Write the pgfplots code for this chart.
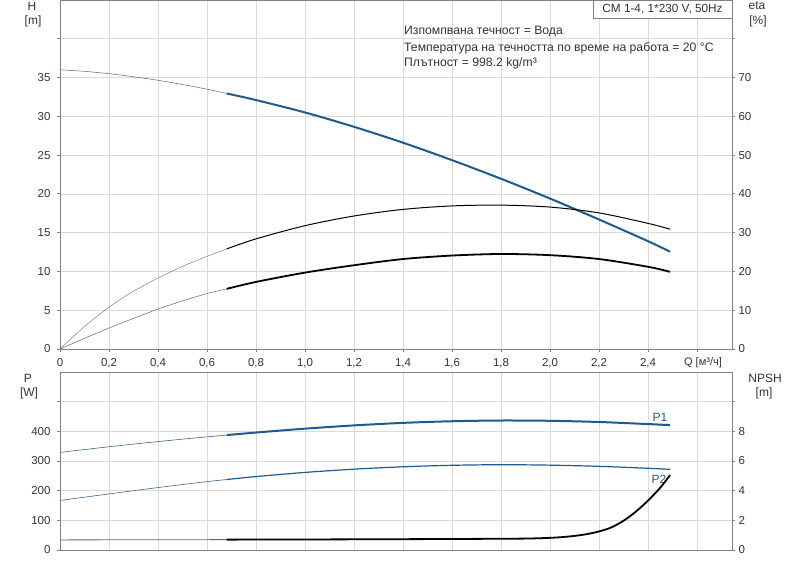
\documentclass[border=0pt]{standalone}
\usepackage{pgfplots}
\pgfplotsset{compat=1.18}
\usepackage{fontspec}
\setmainfont{Liberation Sans}
\definecolor{cblue}{HTML}{1F5A8C}
\definecolor{gridc}{HTML}{DADADA}
\definecolor{axc}{HTML}{808080}
\definecolor{txt}{HTML}{333333}
\pgfplotsset{
  base/.style={
    scale only axis, clip=false,
    xmin=0, xmax=2.7429,
    axis line style={axc, line width=0.8pt},
    tick style={axc, line width=0.8pt},
    major tick length=3pt,
    tick align=outside,
    grid=major,
    major grid style={gridc, line width=0.6pt},
    tick label style={font=\fontsize{11.5}{13}\selectfont, text=txt},
    /pgf/number format/assume math mode=true,
  },
  xt/.style={xtick={0,0.2,0.4,0.6,0.8,1.0,1.2,1.4,1.6,1.8,2.0,2.2,2.4,2.6}},
}
\begin{document}
\begin{tikzpicture}[x=1pt,y=1pt]
\useasboundingbox (0,0) rectangle (800,560);
% ---------- top: H ----------
\begin{axis}[base, xt, at={(60pt,211pt)}, anchor=south west,
  width=672pt, height=349pt,
  ymin=0, ymax=45,
  ytick={0,5,10,15,20,25,30,35,40},
  yticklabels={0,5,10,15,20,25,30,35,{}},
  xticklabels={0,{0,2},{0,4},{0,6},{0,8},{1,0},{1,2},{1,4},{1,6},{1,8},{2,0},{2,2},{2,4},{}},
  yticklabel style={xshift=-3pt},
  xticklabel style={yshift=-3pt},
  ytick pos=left, xtick pos=bottom]
\addplot[cblue!60!gray, line width=0.5pt, smooth] coordinates {(0,36) (0.1,35.8) (0.2,35.5) (0.3,35.1) (0.4,34.65) (0.5,34.1) (0.6,33.5) (0.68,32.95)};
\addplot[cblue, line width=2pt, smooth] coordinates {(0.68,32.95) (0.8,32.1) (1.0,30.5) (1.2,28.65) (1.4,26.6) (1.6,24.35) (1.8,21.95) (2.0,19.4) (2.2,16.7) (2.4,13.9) (2.49,12.55)};
\end{axis}
% ---------- top: eta ----------
\begin{axis}[base, at={(60pt,211pt)}, anchor=south west,
  width=672pt, height=349pt,
  ymin=0, ymax=90,
  axis x line=none, axis y line*=right, grid=none,
  ytick={0,10,20,30,40,50,60,70,80},
  yticklabels={0,10,20,30,40,50,60,70,{}}]
\addplot[gray, line width=0.5pt, smooth] coordinates {(0,0) (0.1,5.8) (0.2,10.8) (0.3,14.9) (0.4,18.3) (0.5,21.3) (0.6,23.9) (0.68,25.8)};
\addplot[black, line width=1pt, smooth] coordinates {(0.68,25.8) (0.8,28.4) (1.0,31.8) (1.2,34.3) (1.4,36.0) (1.6,36.9) (1.8,37.1) (2.0,36.6) (2.2,35.1) (2.4,32.4) (2.49,30.9)};
\addplot[gray!80!black, line width=0.5pt, smooth] coordinates {(0,0) (0.1,2.75) (0.2,5.4) (0.3,7.9) (0.4,10.3) (0.5,12.4) (0.6,14.3) (0.68,15.5)};
\addplot[black, line width=1.8pt, smooth] coordinates {(0.68,15.5) (0.8,17.3) (1.0,19.7) (1.2,21.6) (1.4,23.2) (1.6,24.1) (1.8,24.5) (2.0,24.2) (2.2,23.2) (2.4,21.2) (2.49,19.9)};
\end{axis}
% ---------- bottom: P ----------
\begin{axis}[base, xt, at={(60pt,10pt)}, anchor=south west,
  width=672pt, height=178pt,
  ymin=0, ymax=600,
  ytick={0,100,200,300,400,500},
  yticklabels={0,100,200,300,400,{}},
  yticklabel style={xshift=-3pt},
  xticklabels={},
  ytick pos=left, xtick pos=bottom, major x tick style={draw=none}]
\addplot[cblue!70!gray, line width=0.6pt, smooth] coordinates {(0,329) (0.2,348) (0.4,365.5) (0.6,381.5) (0.68,387.3)};
\addplot[cblue, line width=2pt, smooth] coordinates {(0.68,387.3) (0.8,396) (1.0,409) (1.2,420) (1.4,428.5) (1.6,434) (1.8,436.5) (2.0,435.5) (2.2,431.5) (2.4,424.5) (2.49,421)};
\addplot[cblue!70!gray, line width=0.6pt, smooth] coordinates {(0,167) (0.2,189) (0.4,210.5) (0.6,230.5) (0.68,237.5)};
\addplot[cblue, line width=1.2pt, smooth] coordinates {(0.68,237.5) (0.8,247.5) (1.0,261.5) (1.2,272.5) (1.4,280.5) (1.6,285.5) (1.8,287.5) (2.0,286) (2.2,282) (2.4,275.5) (2.49,272)};
\node[text=cblue, font=\fontsize{12}{14}\selectfont] at (axis cs:2.449,448) {P1};
\node[text=cblue, font=\fontsize{12}{14}\selectfont] at (axis cs:2.445,239) {P2};
\end{axis}
% ---------- bottom: NPSH ----------
\begin{axis}[base, at={(60pt,10pt)}, anchor=south west,
  width=672pt, height=178pt,
  ymin=0, ymax=12,
  axis x line=none, axis y line*=right, grid=none,
  ytick={0,2,4,6,8,10},
  yticklabels={0,2,4,6,8,{}}]
\addplot[gray!80!black, line width=0.8pt] coordinates {(0,0.68) (0.68,0.70)};
\addplot[black, line width=1.8pt, smooth] coordinates {(0.68,0.70) (1.0,0.71) (1.4,0.73) (1.7,0.75) (1.9,0.77) (2.0,0.82) (2.05,0.87) (2.1,0.95) (2.15,1.07) (2.2,1.25) (2.25,1.52) (2.3,1.97) (2.35,2.58) (2.4,3.33) (2.45,4.2) (2.49,5.05)};
\end{axis}
% ---------- texts ----------
\begin{scope}[every node/.style={text=txt, font=\fontsize{12}{14}\selectfont, inner sep=0pt}]
\node at (32,554) {H};
\node at (33,539) {[m]};
\node at (757,554) {eta};
\node at (758,539) {[\%]};
\node at (28,182) {P};
\node at (29,167) {[W]};
\node at (765,182) {NPSH};
\node at (764,167) {[m]};
\node[font=\fontsize{11}{13}\selectfont] at (703,197) {Q [м³/ч]};
\end{scope}
\draw[axc, fill=white, line width=0.8pt] (593,560) rectangle (732,542);
\begin{scope}[every node/.style={text=txt, font=\fontsize{12.2}{14}\selectfont, inner sep=0pt}]
\node[font=\fontsize{11.8}{14}\selectfont] at (662.5,551) {CM 1-4, 1*230 V, 50Hz};
\node[anchor=west] at (404,528) {Изпомпвана течност = Вода};
\node[anchor=west] at (404,512) {Температура на течността по време на работа = 20 °C};
\node[anchor=west] at (404,497) {Плътност = 998.2 kg/m³};
\end{scope}
\end{tikzpicture}
\end{document}
